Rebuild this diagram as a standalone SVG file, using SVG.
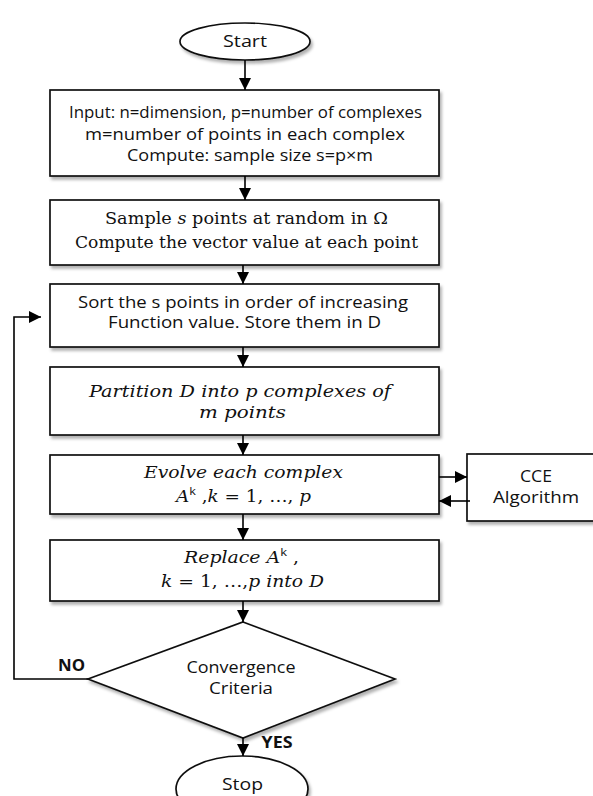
<svg xmlns="http://www.w3.org/2000/svg" width="593" height="796" viewBox="0 0 593 796">
<defs>
<marker id="ah" markerUnits="userSpaceOnUse" markerWidth="12" markerHeight="12" viewBox="0 0 12 12" refX="12" refY="6" orient="auto">
<path d="M0,0 L12,6 L0,12 Z" fill="#000"/>
</marker>
<filter id="sh" x="-5%" y="-10%" width="112%" height="130%">
<feDropShadow dx="2" dy="3" stdDeviation="1.5" flood-color="#000" flood-opacity="0.3"/>
</filter>
</defs>
<style>
.box{fill:#fff;stroke:#111;stroke-width:1.7;filter:url(#sh)}
.ln{fill:none;stroke:#000;stroke-width:1.6}
.sans{font-family:"Open Sans","Liberation Sans",sans-serif;font-size:16px;fill:#111;text-anchor:middle}
.serif{font-family:"DejaVu Serif","Liberation Serif",serif;font-size:16px;fill:#111;text-anchor:middle}
.it{font-style:italic}
.b{font-weight:bold}
</style>
<rect width="593" height="796" fill="#fff"/>

<g id="start">
<ellipse class="box" cx="245" cy="41.5" rx="65" ry="18.5"/>
<text class="sans" x="245" y="47" textLength="44" lengthAdjust="spacingAndGlyphs">Start</text>
</g>

<g id="input">
<rect class="box" x="50" y="90" width="389" height="86"/>
<text class="sans" x="245.5" y="118" textLength="353" lengthAdjust="spacingAndGlyphs">Input: n=dimension, p=number of complexes</text>
<text class="sans" x="245" y="140" textLength="320" lengthAdjust="spacingAndGlyphs">m=number of points in each complex</text>
<text class="sans" x="250" y="161" textLength="246" lengthAdjust="spacingAndGlyphs">Compute:  sample size s=p×m</text>
</g>

<g id="sample">
<rect class="box" x="50" y="200" width="389" height="65"/>
<text class="serif" x="246.5" y="224" textLength="283" lengthAdjust="spacingAndGlyphs">Sample <tspan class="it">s</tspan> points at random in Ω</text>
<text class="serif" x="246.5" y="248" textLength="343" lengthAdjust="spacingAndGlyphs">Compute the vector value  at each point</text>
</g>

<g id="sort">
<rect class="box" x="50" y="284" width="389" height="63"/>
<text class="sans" x="243" y="308" textLength="330" lengthAdjust="spacingAndGlyphs">Sort the s points in order of increasing</text>
<text class="sans" x="244.5" y="328" textLength="273" lengthAdjust="spacingAndGlyphs">Function  value. Store them  in D</text>
</g>

<g id="partition">
<rect class="box" x="50" y="367" width="389" height="68"/>
<text class="serif it" x="240" y="397" textLength="302" lengthAdjust="spacingAndGlyphs">Partition D into p complexes of</text>
<text class="serif it" x="242.5" y="418" textLength="87" lengthAdjust="spacingAndGlyphs">m points</text>
</g>

<g id="evolve">
<rect class="box" x="50" y="455" width="389" height="59"/>
<text class="serif it" x="243.5" y="478" textLength="199" lengthAdjust="spacingAndGlyphs">Evolve each complex</text>
<text class="serif" x="243.5" y="502" textLength="135" lengthAdjust="spacingAndGlyphs"><tspan class="it">A</tspan><tspan font-family="Open Sans, Liberation Sans, sans-serif" font-size="11" dy="-7">k</tspan><tspan dy="7"> ,</tspan><tspan class="it">k</tspan> = 1, …, <tspan class="it">p</tspan></text>
</g>

<g id="cce">
<rect class="box" x="467" y="454" width="140" height="67"/>
<text class="sans" x="536" y="482" textLength="32" lengthAdjust="spacingAndGlyphs">CCE</text>
<text class="sans" x="536" y="503" textLength="86" lengthAdjust="spacingAndGlyphs">Algorithm</text>
</g>

<g id="replace">
<rect class="box" x="50" y="540" width="389" height="61"/>
<text class="serif" x="241.5" y="563" textLength="115" lengthAdjust="spacingAndGlyphs"><tspan class="it">Replace A</tspan><tspan font-family="Open Sans, Liberation Sans, sans-serif" font-size="11" dy="-7">k</tspan><tspan dy="7"> ,</tspan></text>
<text class="serif" x="242.5" y="587" textLength="163" lengthAdjust="spacingAndGlyphs"><tspan class="it">k</tspan> = 1, …,<tspan class="it">p into D</tspan></text>
</g>

<g id="convergence">
<polygon class="box" points="243,622 395,679 243,738 88,679"/>
<text class="sans" x="241" y="673" textLength="109" lengthAdjust="spacingAndGlyphs">Convergence</text>
<text class="sans" x="241" y="694" textLength="64" lengthAdjust="spacingAndGlyphs">Criteria</text>
</g>

<g id="stop">
<ellipse class="box" cx="242" cy="789" rx="66" ry="33"/>
<text class="sans" x="242.5" y="790" textLength="41" lengthAdjust="spacingAndGlyphs">Stop</text>
</g>

<g id="connectors">
<path class="ln" d="M245 60 V90" marker-end="url(#ah)"/>
<path class="ln" d="M245 176 V200" marker-end="url(#ah)"/>
<path class="ln" d="M243 265 V284" marker-end="url(#ah)"/>
<path class="ln" d="M243 347 V367" marker-end="url(#ah)"/>
<path class="ln" d="M243 435 V455" marker-end="url(#ah)"/>
<path class="ln" d="M439 477 H467" marker-end="url(#ah)"/>
<path class="ln" d="M470 501 H439" marker-end="url(#ah)"/>
<path class="ln" d="M243 514 V540" marker-end="url(#ah)"/>
<path class="ln" d="M243 601 V622" marker-end="url(#ah)"/>
<path class="ln" d="M243 738 V756" marker-end="url(#ah)"/>
<path class="ln" d="M88 679 H14 V317 H41" marker-end="url(#ah)"/>
<text class="sans b" x="71.5" y="671" textLength="27" lengthAdjust="spacingAndGlyphs">NO</text>
<text class="sans b" x="277" y="748" textLength="31" lengthAdjust="spacingAndGlyphs">YES</text>
</g>
</svg>
